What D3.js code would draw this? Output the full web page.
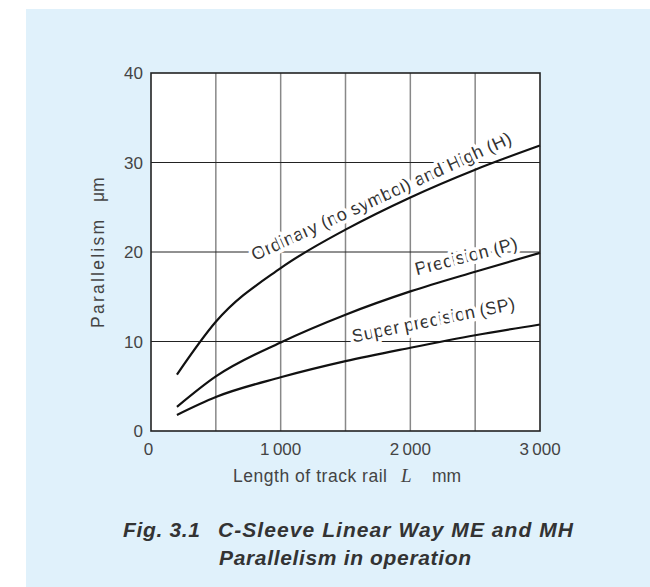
<!DOCTYPE html>
<html>
<head>
<meta charset="utf-8">
<script src="https://cdn.jsdelivr.net/npm/d3@7"></script>
<style>
  html, body { margin: 0; padding: 0; background: #fff; }
  svg { display: block; font-family: 'Liberation Sans', Arial, sans-serif; }
</style>
</head>
<body>
<svg width="650" height="587"></svg>
<script>
// rail length (mm) at which the curves are read
var lengths = [200, 500, 1000, 1500, 2000, 2500, 3000]
var ordinary = [6.3, 12.2, 18.2, 22.5, 26.1, 29.2, 31.9]
var precision = [2.7, 6.1, 9.9, 13.0, 15.6, 17.8, 19.9]
var superPrecision = [1.8, 3.8, 6.0, 7.8, 9.3, 10.7, 11.9]

var xTicks = [0, 1000, 2000, 3000]
var xTickLabels = ['0', '1\u2009000', '2\u2009000', '3\u2009000']
var yTicks = [0, 10, 20, 30, 40]
var xGrid = [500, 1000, 1500, 2000, 2500]

var curveLabels = ['Ordinary (no symbol) and High (H)', 'Precision (P)', 'Super precision (SP)']

;(function (d3) {
  var svg = d3.select('svg')

  // light blue panel
  svg.append('rect')
    .attr('x', 26).attr('y', 9)
    .attr('width', 650 - 26).attr('height', 587 - 9)
    .attr('fill', '#e0f1fb')

  var x = d3.scaleLinear().domain([0, 3000]).range([151, 540])
  var y = d3.scaleLinear().domain([0, 40]).range([431, 73])

  svg.append('rect')
    .attr('x', x(0)).attr('y', y(40))
    .attr('width', x(3000) - x(0)).attr('height', y(0) - y(40))
    .attr('fill', '#fff')

  // grid
  svg.selectAll('.vg').data(xGrid).enter().append('line')
    .attr('x1', d => x(d)).attr('x2', d => x(d))
    .attr('y1', y(0)).attr('y2', y(40))
    .attr('stroke', '#888').attr('stroke-width', 1.5)

  svg.selectAll('.hg').data(yTicks.slice(1, -1)).enter().append('line')
    .attr('x1', x(0)).attr('x2', x(3000))
    .attr('y1', d => y(d)).attr('y2', d => y(d))
    .attr('stroke', '#222').attr('stroke-width', 1)

  // curve labels (anchor in data units), white halo hides the grid behind them
  var labelPos = [
    {x: 800, y: 19.0, a: -24.6, len: 284},
    {x: 2050, y: 17.4, a: -14.5, len: 105},
    {x: 1560, y: 9.9, a: -11.5, len: 166}
  ]
  labelPos.forEach(function (l, i) {
    svg.append('text')
      .attr('transform', 'translate(' + x(l.x) + ',' + y(l.y) + ') rotate(' + l.a + ')')
      .attr('font-size', 18)
      .attr('textLength', l.len).attr('lengthAdjust', 'spacing')
      .attr('fill', '#333')
      .attr('stroke', '#fff').attr('stroke-width', 7)
      .attr('paint-order', 'stroke')
      .attr('stroke-linejoin', 'round')
      .text(curveLabels[i])
  })

  // curves, drawn over the label halos
  var series = [ordinary, precision, superPrecision]
  var ln = d3.line()
    .x((d, i) => x(lengths[i]))
    .y(d => y(d))
    .curve(d3.curveMonotoneX)

  svg.selectAll('.curve').data(series).enter().append('path')
    .attr('d', ln)
    .attr('fill', 'none')
    .attr('stroke', '#111')
    .attr('stroke-width', 2.2)

  // frame
  svg.append('rect')
    .attr('x', x(0)).attr('y', y(40))
    .attr('width', x(3000) - x(0)).attr('height', y(0) - y(40))
    .attr('fill', 'none').attr('stroke', '#222').attr('stroke-width', 1.6)

  // tick labels
  svg.selectAll('.yt').data(yTicks).enter().append('text')
    .attr('x', 143).attr('y', d => y(d) + 6)
    .attr('text-anchor', 'end')
    .attr('font-size', 17).attr('fill', '#444')
    .text(d => d)

  svg.selectAll('.xt').data(xTicks).enter().append('text')
    .attr('x', (d, i) => x(d) - (i === 0 ? 2.5 : 0)).attr('y', 455)
    .attr('text-anchor', 'middle')
    .attr('font-size', 17).attr('fill', '#444')
    .text((d, i) => xTickLabels[i])

  // axis titles
  var tg = svg.append('g').attr('font-size', 17.5).attr('fill', '#444')
  tg.append('text').attr('x', 233).attr('y', 482)
    .attr('textLength', 154).attr('lengthAdjust', 'spacing')
    .text('Length of track rail')
  tg.append('text').attr('x', 401).attr('y', 482)
    .attr('font-family', 'Liberation Serif, serif')
    .attr('font-style', 'italic').attr('font-size', 19).text('L')
  tg.append('text').attr('x', 432).attr('y', 482)
    .text('mm')

  var yt = svg.append('g')
    .attr('transform', 'translate(104,328) rotate(-90)')
    .attr('font-size', 17.5).attr('fill', '#444')
  yt.append('text').attr('x', 0).attr('y', 0)
    .attr('textLength', 108).attr('lengthAdjust', 'spacing')
    .text('Parallelism')
  yt.append('text').attr('x', 126).attr('y', 0)
    .text('\u03bcm')

  // caption
  var cap = svg.append('g')
    .attr('font-size', 21).attr('font-weight', 'bold')
    .attr('font-style', 'italic').attr('fill', '#333')
  cap.append('text').attr('x', 123).attr('y', 537)
    .attr('textLength', 77).attr('lengthAdjust', 'spacing')
    .text('Fig. 3.1')
  cap.append('text').attr('x', 218).attr('y', 537)
    .attr('textLength', 355).attr('lengthAdjust', 'spacing')
    .text('C-Sleeve Linear Way ME and MH')
  cap.append('text').attr('x', 219).attr('y', 565)
    .attr('textLength', 252).attr('lengthAdjust', 'spacing')
    .text('Parallelism in operation')
})(window.d3)
</script>
</body>
</html>
